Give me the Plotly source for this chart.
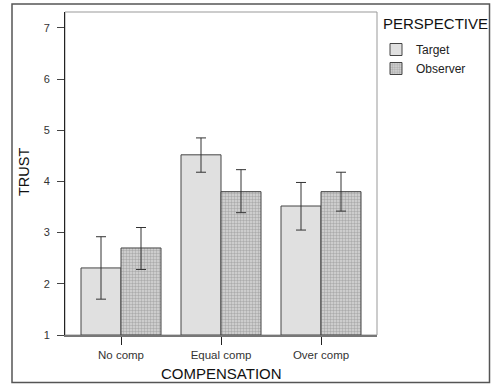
import plotly.graph_objects as go

categories = ["No comp", "Equal comp", "Over comp"]
target_mean = [2.31, 4.52, 3.52]
target_upper = [2.92, 4.85, 3.98]
target_lower = [1.70, 4.18, 3.05]
observer_mean = [2.70, 3.80, 3.80]
observer_upper = [3.10, 4.23, 4.18]
observer_lower = [2.28, 3.39, 3.42]
y_ticks = [1, 2, 3, 4, 5, 6, 7]

FONT = "Liberation Sans, Arial, sans-serif"
L, R, T, B, W, H = 65, 377, 12, 335, 492, 385
PW, PH = R - L, B - T

def px(x):
    return (x - L) / PW

def py(y):
    return (B - y) / PH

def err(mean, up, lo):
    return dict(type="data", symmetric=False,
                array=[u - m for u, m in zip(up, mean)],
                arrayminus=[m - l for m, l in zip(mean, lo)],
                color="#333333", thickness=1, width=5)

fig = go.Figure()
fig.add_trace(go.Bar(
    x=categories, y=[m - 1 for m in target_mean], base=1, name="Target",
    marker=dict(color="#e0e0e0", line=dict(color="#444444", width=1)),
    error_y=err(target_mean, target_upper, target_lower),
))
fig.add_trace(go.Bar(
    x=categories, y=[m - 1 for m in observer_mean], base=1, name="Observer",
    marker=dict(color="#d0d0d0", line=dict(color="#444444", width=1),
                pattern=dict(shape=".", size=3, solidity=0.5,
                             fgcolor="#808080", bgcolor="#d8d8d8", fillmode="overlay")),
    error_y=err(observer_mean, observer_upper, observer_lower),
))

fig.update_layout(
    width=W, height=H,
    margin=dict(l=L, r=W - R, t=T, b=H - B, autoexpand=False),
    paper_bgcolor="white", plot_bgcolor="white",
    barmode="group", bargap=0.2, bargroupgap=0,
    font=dict(family=FONT, color="#222222"),
    showlegend=True,
    legend=dict(
        x=px(376), y=py(35), xanchor="left", yanchor="top",
        font=dict(size=12, family=FONT, color="#222222"),
        itemwidth=30, tracegroupgap=0, bgcolor="rgba(0,0,0,0)",
    ),
    xaxis=dict(
        type="category", range=[-0.56, 2.56], automargin=False,
        showline=True, linecolor="#777777", linewidth=1.5,
        ticks="outside", ticklen=8, tickcolor="#222222",
        tickfont=dict(size=11.5, family=FONT, color="#333333"),
        showgrid=False, zeroline=False,
    ),
    yaxis=dict(
        range=[1, 7.31], tickvals=y_ticks, automargin=False,
        showline=True, linecolor="#222222", linewidth=1,
        ticks="outside", ticklen=7, tickcolor="#444444",
        ticklabelstandoff=5,
        tickfont=dict(size=11, family=FONT, color="#333333"),
        showgrid=False, zeroline=False,
    ),
    annotations=[
        dict(text="COMPENSATION", xref="paper", yref="paper", x=px(221), y=py(373),
             xanchor="center", yanchor="middle", showarrow=False,
             font=dict(size=15, family=FONT, color="#111111")),
        dict(text="TRUST", xref="paper", yref="paper", x=px(24), y=py(172),
             xanchor="center", yanchor="middle", showarrow=False, textangle=-90,
             font=dict(size=14.5, family=FONT, color="#111111")),
        dict(text="PERSPECTIVE", xref="paper", yref="paper", x=px(381), y=py(24),
             xanchor="left", yanchor="middle", showarrow=False,
             font=dict(size=15, family=FONT, color="#111111")),
    ],
    shapes=[
        dict(type="rect", xref="paper", yref="paper", x0=0, x1=1, y0=0, y1=1,
             line=dict(color="#999999", width=1), layer="below"),
        dict(type="rect", xref="paper", yref="paper",
             x0=px(12), x1=px(489.5), y0=py(382.5), y1=py(4),
             line=dict(color="#555555", width=1.5)),
    ],
)

fig.write_html("out.html", config={"displayModeBar": False},
               post_script="document.body.style.margin='0';document.body.style.padding='0';")
